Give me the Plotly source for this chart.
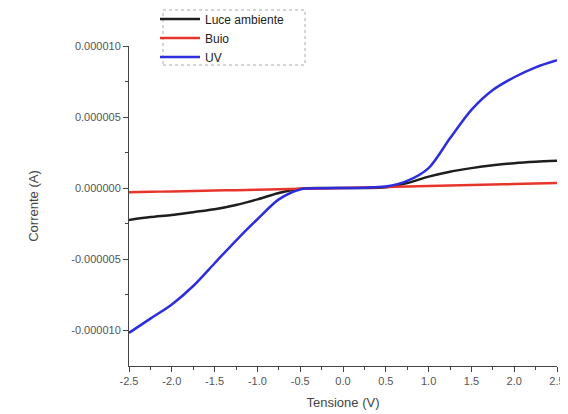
import plotly.graph_objects as go

tensione = [-2.5, -2.25, -2.0, -1.75, -1.5, -1.25, -1.0, -0.75, -0.5, -0.25, 0.0,
            0.25, 0.5, 0.75, 1.0, 1.25, 1.5, 1.75, 2.0, 2.25, 2.5]
luce_ambiente = [-2.25e-6, -2.05e-6, -1.9e-6, -1.7e-6, -1.5e-6, -1.2e-6, -0.8e-6, -0.35e-6, -0.05e-6, 0.0, 0.0,
                 0.0, 0.05e-6, 0.35e-6, 0.8e-6, 1.15e-6, 1.4e-6, 1.6e-6, 1.75e-6, 1.85e-6, 1.92e-6]
buio = [-0.30e-6, -0.27e-6, -0.24e-6, -0.21e-6, -0.18e-6, -0.15e-6, -0.12e-6, -0.09e-6, -0.06e-6, -0.03e-6, 0.0,
        0.035e-6, 0.07e-6, 0.10e-6, 0.14e-6, 0.17e-6, 0.21e-6, 0.24e-6, 0.28e-6, 0.31e-6, 0.35e-6]
uv = [-10.2e-6, -9.2e-6, -8.2e-6, -6.9e-6, -5.3e-6, -3.7e-6, -2.2e-6, -0.8e-6, -0.1e-6, -0.02e-6, 0.0,
      0.02e-6, 0.1e-6, 0.5e-6, 1.4e-6, 3.5e-6, 5.5e-6, 6.9e-6, 7.8e-6, 8.5e-6, 9.0e-6]

x_ticks = [-2.5, -2.0, -1.5, -1.0, -0.5, 0.0, 0.5, 1.0, 1.5, 2.0, 2.5]
y_ticks = [-10e-6, -5e-6, 0.0, 5e-6, 10e-6]
y_labels = ["-0.000010", "-0.000005", "0.000000", "0.000005", "0.000010"]

fig = go.Figure()
series = [("Luce ambiente", luce_ambiente, "#1e1e1e"),
          ("Buio", buio, "#e8352c"),
          ("UV", uv, "#2d2de0")]
for name, vals, col in series:
    fig.add_trace(go.Scatter(x=tensione, y=vals, mode="lines", name=name,
                             line=dict(color=col, width=2.5, shape="spline", smoothing=0.8)))

fig.update_layout(
    width=560, height=406,
    margin=dict(l=121, r=11, t=38, b=48, autoexpand=False),
    plot_bgcolor="white", paper_bgcolor="white",
    font=dict(family="Liberation Sans, Arial, sans-serif", color="#555"),
    showlegend=True,
    legend=dict(x=(155 - 129) / 428, y=1.13, xanchor="left", yanchor="top",
                bgcolor="rgba(0,0,0,0)", borderwidth=0,
                font=dict(size=12, color="#222"), tracegroupgap=0,
                itemwidth=40),
)
fig.update_xaxes(range=[-2.5, 2.5], tickvals=x_ticks, ticktext=[f"{v:.1f}" for v in x_ticks],
                 showgrid=False, zeroline=False, showline=True, linecolor="#444", linewidth=1,
                 ticks="outside", ticklen=5, tickcolor="#444", tickfont=dict(size=11),
                 minor=dict(dtick=0.25, ticks="outside", ticklen=3, tickcolor="#444"),
                 title=dict(text="Tensione (V)", font=dict(size=13, color="#444"), standoff=11))
fig.update_yaxes(range=[-12.535e-6, 10.0e-6], tickvals=y_ticks, ticktext=y_labels,
                 showgrid=False, zeroline=False, showline=True, linecolor="#444", linewidth=1,
                 ticks="outside", ticklen=5, tickcolor="#444", tickfont=dict(size=11),
                 minor=dict(tickvals=[-7.5e-6, -2.5e-6, 2.5e-6, 7.5e-6], ticks="outside", ticklen=3, tickcolor="#444"),
                 title=dict(text="Corrente (A)", font=dict(size=13, color="#444"), standoff=29))
fig.add_shape(type="rect", xref="paper", yref="paper",
              x0=(163 - 129) / 428, x1=(305 - 129) / 428,
              y0=(366 - 65) / 320, y1=(366 - 10) / 320,
              line=dict(color="#aaa", width=1, dash="dot"))
fig.write_html("out.html")
